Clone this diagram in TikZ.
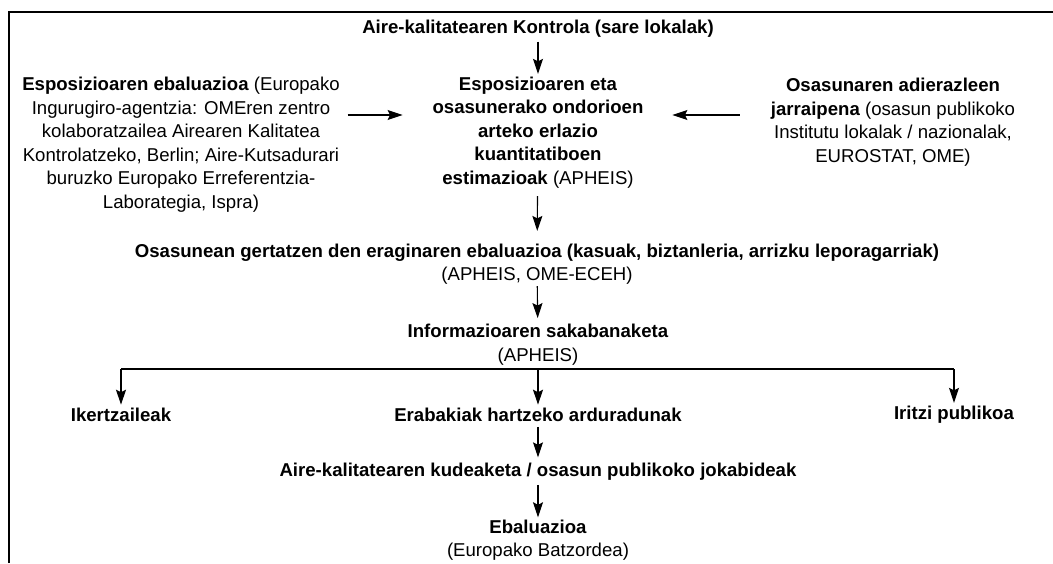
\documentclass[tikz,border=0pt]{standalone}
\usepackage{fontspec}
\setmainfont{Liberation Sans}
\usetikzlibrary{arrows.meta}
\begin{document}
\begin{tikzpicture}[x=1pt,y=-1pt,
        lbl/.style={align=center,inner sep=0pt,outer sep=0pt,font=\fontsize{18.6}{23.5}\selectfont},
        flow/.style={-{Stealth[length=15pt,width=10pt,inset=2.5pt]},line width=1.1pt},
        frame/.style={line width=1.5pt}]
        \useasboundingbox (0,0) rectangle (1053,563);
        \draw[frame] (9,563) -- (9,12) -- (1053,12);
        \node[lbl] (ctrl) at (538,28.3) {\textbf{Aire-kalitatearen Kontrola (sare lokalak)}};
        \node[lbl] (rel) at (538,132.5) {\textbf{Esposizioaren eta}\\\textbf{osasunerako ondorioen}\\\textbf{arteko erlazio}\\\textbf{kuantitatiboen}\\\textbf{estimazioak} (APHEIS)};
        \node[lbl] (expo) at (181,144.5) {\textbf{Esposizioaren ebaluazioa} (Europako\\Ingurugiro-agentzia: OMEren zentro\\kolaboratzailea Airearen Kalitatea\\Kontrolatzeko, Berlin; Aire-Kutsadurari\\buruzko Europako Erreferentzia-\\Laborategia, Ispra)};
        \node[lbl] (osas) at (893,122) {\textbf{Osasunaren adierazleen}\\\textbf{jarraipena} (osasun publikoko\\Institutu lokalak / nazionalak,\\EUROSTAT, OME)};
        \node[lbl] (impact) at (537,264.3) {\textbf{Osasunean gertatzen den eraginaren ebaluazioa (kasuak, biztanleria, arrizku leporagarriak)}\\(APHEIS, OME-ECEH)};
        \node[lbl] (info) at (538,344.5) {\textbf{Informazioaren sakabanaketa}\\(APHEIS)};
        \node[lbl] (ikert) at (121,415) {\textbf{Ikertzaileak}};
        \node[lbl] (erab) at (538,415) {\textbf{Erabakiak hartzeko arduradunak}};
        \node[lbl] (iritzi) at (954,415) {\textbf{Iritzi publikoa}};
        \node[lbl] (kude) at (538,472) {\textbf{Aire-kalitatearen kudeaketa / osasun publikoko jokabideak}};
        \node[lbl] (ebal) at (538,540) {\textbf{Ebaluazioa}\\(Europako Batzordea)};
        \coordinate (side) at (0,115);
        \coordinate (bar) at (538,369);
        %
        \draw[flow,shorten <=4.7pt,shorten >=3pt] (ctrl) -- (rel);
        \draw[flow,shorten <=8pt,shorten >=30pt] (expo.east |- side) -- (rel.west |- side);
        \draw[flow,shorten <=31pt,shorten >=29pt] (osas.west |- side) -- (rel.east |- side);
        \draw[flow,shorten <=8pt,shorten >=13pt] (rel) -- (impact);
        \draw[flow,shorten <=1.5pt,shorten >=6pt] (impact) -- (info);
        \draw[line width=1.1pt] (ikert |- bar) -- (iritzi |- bar);
        \foreach \n in {ikert,erab,iritzi}
        {%
            \draw[flow,shorten >=3.5pt] (\n |- bar) -- (\n);
        }%
        \draw[flow,shorten <=5pt,shorten >=6pt] (erab) -- (kude);
        \draw[flow,shorten <=4.3pt,shorten >=2.3pt] (kude) -- (ebal);
\end{tikzpicture}
\end{document}
